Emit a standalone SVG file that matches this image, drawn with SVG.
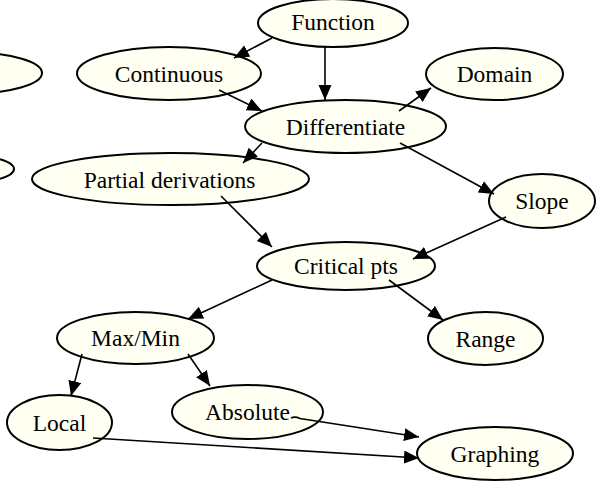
<svg xmlns="http://www.w3.org/2000/svg" width="597" height="487" viewBox="0 0 597 487">
  <style>
    .node ellipse { fill: #fffff2; stroke: #000; stroke-width: 2; }
    .node text { font-family: "Liberation Serif", "Times New Roman", serif; font-size: 23.5px; fill: #000; text-anchor: middle; }
    .edge { fill: none; stroke: #000; stroke-width: 1.6; marker-end: url(#arrow); }
  </style>
  <defs>
    <marker id="arrow" markerUnits="userSpaceOnUse" markerWidth="16" markerHeight="14" refX="15" refY="6.5" orient="auto">
      <path d="M0,0 L15,6.5 L0,13 z" fill="#000"/>
    </marker>
  </defs>

  <!-- nodes partly outside the left edge -->
  <g id="node-left-1" class="node"><ellipse cx="-30" cy="73" rx="72" ry="20.5"/></g>
  <g id="node-left-2" class="node"><ellipse cx="-40" cy="169" rx="54" ry="14.5"/></g>

  <g id="node-function" class="node"><ellipse cx="333" cy="23" rx="75" ry="24"/><text x="333" y="30">Function</text></g>
  <g id="node-continuous" class="node"><ellipse cx="169" cy="73.5" rx="92" ry="26.5"/><text x="169" y="81.5">Continuous</text></g>
  <g id="node-domain" class="node"><ellipse cx="494.5" cy="74" rx="68.5" ry="26"/><text x="494.5" y="82">Domain</text></g>
  <g id="node-differentiate" class="node"><ellipse cx="345.5" cy="126.5" rx="100.5" ry="26.5"/><text x="345.5" y="134.5">Differentiate</text></g>
  <g id="node-partial" class="node"><ellipse cx="170.5" cy="179" rx="138.5" ry="26"/><text x="169.5" y="188">Partial derivations</text></g>
  <g id="node-slope" class="node"><ellipse cx="542" cy="201" rx="53" ry="27"/><text x="542" y="209">Slope</text></g>
  <g id="node-critical" class="node"><ellipse cx="346" cy="266" rx="89" ry="24"/><text x="346" y="274">Critical pts</text></g>
  <g id="node-range" class="node"><ellipse cx="485.5" cy="338.5" rx="57.5" ry="26.5"/><text x="485.5" y="346.5">Range</text></g>
  <g id="node-maxmin" class="node"><ellipse cx="135.5" cy="338" rx="78.5" ry="26"/><text x="135.5" y="346">Max/Min</text></g>
  <g id="node-local" class="node"><ellipse cx="59.5" cy="422.5" rx="52.5" ry="27.5"/><text x="59.5" y="430.5">Local</text></g>
  <g id="node-absolute" class="node"><ellipse cx="247.5" cy="412" rx="75.5" ry="27"/><text x="247.5" y="420">Absolute</text></g>
  <g id="node-graphing" class="node"><ellipse cx="495" cy="453.5" rx="78" ry="26.5"/><text x="495" y="461.5">Graphing</text></g>

  <g id="connectors">
    <path class="edge" d="M272,38 L234,58"/>
    <path class="edge" d="M325,47 L325,100"/>
    <path class="edge" d="M219,90 L262,111"/>
    <path class="edge" d="M399,111 L431,88"/>
    <path class="edge" d="M262,143 L243,163"/>
    <path class="edge" d="M400,143 L494,194"/>
    <path class="edge" d="M221,196 L272,247"/>
    <path class="edge" d="M506,217 L413,259"/>
    <path class="edge" d="M272,280 L188,319"/>
    <path class="edge" d="M389,280 L443,320"/>
    <path class="edge" d="M82,354 L71,396"/>
    <path class="edge" d="M188,354 L210,386"/>
    <path class="edge" d="M291,418 Q295,416 300,418.5 L419,437"/>
    <path class="edge" d="M93,438 L419,458"/>
  </g>
</svg>
